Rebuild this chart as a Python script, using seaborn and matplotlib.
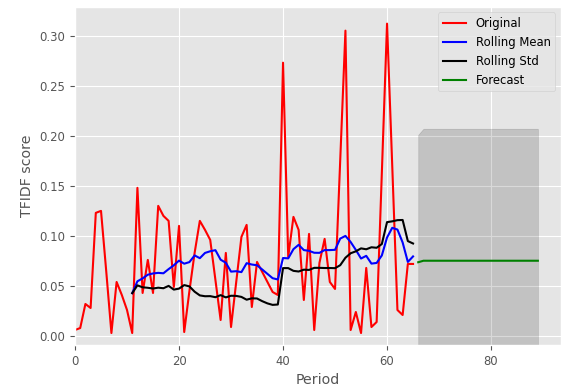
import matplotlib
matplotlib.use("Agg")
import matplotlib.pyplot as plt
import seaborn as sns
import pandas as pd

# TFIDF score per period
original = [0.006, 0.008, 0.032, 0.028, 0.123, 0.125, 0.065, 0.003, 0.054, 0.041,
            0.026, 0.003, 0.148, 0.043, 0.076, 0.043, 0.130, 0.120, 0.115, 0.049,
            0.110, 0.004, 0.045, 0.083, 0.115, 0.106, 0.096, 0.056, 0.016, 0.083,
            0.009, 0.054, 0.099, 0.111, 0.029, 0.074, 0.064, 0.054, 0.044, 0.041,
            0.273, 0.079, 0.119, 0.106, 0.036, 0.102, 0.006, 0.073, 0.097, 0.054,
            0.047, 0.176, 0.305, 0.006, 0.024, 0.003, 0.068, 0.009, 0.014, 0.163,
            0.312, 0.170, 0.026, 0.021, 0.072, 0.072]
periods = list(range(len(original)))

forecast_periods = list(range(66, 90))
forecast = [0.0737, 0.0752, 0.0752, 0.0752, 0.0752, 0.0752, 0.0752, 0.0752,
            0.0752, 0.0752, 0.0752, 0.0752, 0.0752, 0.0752, 0.0752, 0.0752,
            0.0752, 0.0752, 0.0752, 0.0752, 0.0752, 0.0752, 0.0752, 0.0752]
conf_upper = [0.201, 0.207, 0.207, 0.207, 0.207, 0.207, 0.207, 0.207,
              0.207, 0.207, 0.207, 0.207, 0.207, 0.207, 0.207, 0.207,
              0.207, 0.207, 0.207, 0.207, 0.207, 0.207, 0.207, 0.207]
conf_lower = [-0.054, -0.057, -0.057, -0.057, -0.057, -0.057, -0.057, -0.057,
              -0.057, -0.057, -0.057, -0.057, -0.057, -0.057, -0.057, -0.057,
              -0.057, -0.057, -0.057, -0.057, -0.057, -0.057, -0.057, -0.057]

ts = pd.Series(original, index=periods)
rol_mean = ts.rolling(window=12).mean()
rol_std = ts.rolling(window=12).std()

plt.style.use("ggplot")
plt.rcParams["xtick.labelsize"] = 8.4
plt.rcParams["ytick.labelsize"] = 8.4
plt.rcParams["axes.labelsize"] = 10.2
plt.rcParams["legend.fontsize"] = 8.4

fig, ax = plt.subplots(figsize=(5.61, 3.89), dpi=100)
fig.subplots_adjust(left=0.1337, right=1.0, top=0.983, bottom=0.113)

sns.lineplot(x=periods, y=original, color="red", label="Original", ax=ax)
sns.lineplot(x=rol_mean.index, y=rol_mean.values, color="blue", label="Rolling Mean", ax=ax)
sns.lineplot(x=rol_std.index, y=rol_std.values, color="black", label="Rolling Std", ax=ax)
sns.lineplot(x=forecast_periods, y=forecast, color="green", label="Forecast", ax=ax)
ax.fill_between(forecast_periods, conf_lower, conf_upper, color="k", alpha=0.15)

ax.set_xlim(0, 93.45)
ax.set_ylim(-0.009, 0.329)
ax.set_xlabel("Period")
ax.set_ylabel("TFIDF score")
ax.legend(loc="upper right", facecolor="#E5E5E5", edgecolor="0.8", framealpha=0.8)

fig.savefig("out.png", dpi=100)
